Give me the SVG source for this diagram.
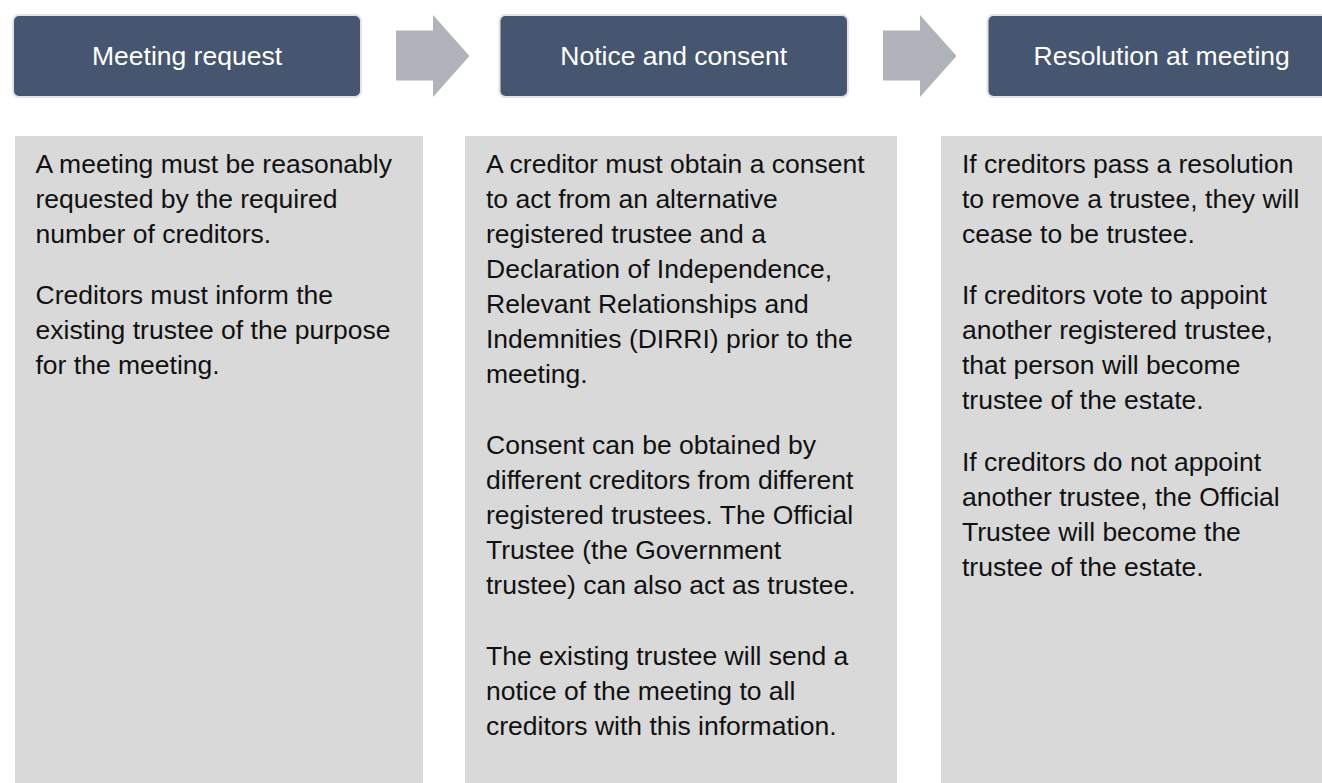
<svg xmlns="http://www.w3.org/2000/svg" width="1322" height="783" viewBox="0 0 1322 783">
  <style>
    .hdr { fill: #465670; stroke: #e4e4e4; stroke-width: 2; }
    .hdr-t { font-family: "Liberation Sans", Arial, sans-serif; font-size: 26.5px; fill: #ffffff; text-anchor: middle; }
    .body { fill: #d9d9d9; }
    .body-t { font-family: "Liberation Sans", Arial, sans-serif; font-size: 26.5px; fill: #111111; }
    .arrow { fill: #b0b3b9; }
  </style>
  <rect x="0" y="0" width="1322" height="783" fill="#ffffff"/>

  <g id="connectors">
    <polygon class="arrow" points="396,30.5 433,30.5 433,15 469.5,56 433,97 433,80.5 396,80.5"/>
    <polygon class="arrow" points="883,30.5 920,30.5 920,15 956.5,56 920,97 920,80.5 883,80.5"/>
  </g>

  <g id="node-meeting-request">
    <rect class="hdr" x="13" y="15" width="348" height="82" rx="6"/>
    <text class="hdr-t" x="187" y="65">Meeting request</text>
  </g>

  <g id="node-notice-and-consent">
    <rect class="hdr" x="499.5" y="15" width="348.5" height="82" rx="6"/>
    <text class="hdr-t" x="673.7" y="65">Notice and consent</text>
  </g>

  <g id="node-resolution-at-meeting">
    <rect class="hdr" x="987.5" y="15" width="348.5" height="82" rx="6"/>
    <text class="hdr-t" x="1161.7" y="65">Resolution at meeting</text>
  </g>

  <g id="detail-meeting-request">
    <rect class="body" x="15" y="136" width="408" height="647"/>
    <text class="body-t">
      <tspan x="35.5" y="173">A meeting must be reasonably</tspan>
      <tspan x="35.5" y="208">requested by the required</tspan>
      <tspan x="35.5" y="243">number of creditors.</tspan>
      <tspan x="35.5" y="304">Creditors must inform the</tspan>
      <tspan x="35.5" y="339">existing trustee of the purpose</tspan>
      <tspan x="35.5" y="374">for the meeting.</tspan>
    </text>
  </g>

  <g id="detail-notice-and-consent">
    <rect class="body" x="465" y="136" width="432" height="647"/>
    <text class="body-t">
      <tspan x="486" y="173">A creditor must obtain a consent</tspan>
      <tspan x="486" y="208">to act from an alternative</tspan>
      <tspan x="486" y="243">registered trustee and a</tspan>
      <tspan x="486" y="278">Declaration of Independence,</tspan>
      <tspan x="486" y="313">Relevant Relationships and</tspan>
      <tspan x="486" y="348">Indemnities (DIRRI) prior to the</tspan>
      <tspan x="486" y="383">meeting.</tspan>
      <tspan x="486" y="454">Consent can be obtained by</tspan>
      <tspan x="486" y="489">different creditors from different</tspan>
      <tspan x="486" y="524">registered trustees. The Official</tspan>
      <tspan x="486" y="559">Trustee (the Government</tspan>
      <tspan x="486" y="594">trustee) can also act as trustee.</tspan>
      <tspan x="486" y="665">The existing trustee will send a</tspan>
      <tspan x="486" y="700">notice of the meeting to all</tspan>
      <tspan x="486" y="735">creditors with this information.</tspan>
    </text>
  </g>

  <g id="detail-resolution-at-meeting">
    <rect class="body" x="941" y="136" width="400" height="647"/>
    <text class="body-t">
      <tspan x="962" y="173">If creditors pass a resolution</tspan>
      <tspan x="962" y="208">to remove a trustee, they will</tspan>
      <tspan x="962" y="243">cease to be trustee.</tspan>
      <tspan x="962" y="304">If creditors vote to appoint</tspan>
      <tspan x="962" y="339">another registered trustee,</tspan>
      <tspan x="962" y="374">that person will become</tspan>
      <tspan x="962" y="409">trustee of the estate.</tspan>
      <tspan x="962" y="470.5">If creditors do not appoint</tspan>
      <tspan x="962" y="505.5">another trustee, the Official</tspan>
      <tspan x="962" y="540.5">Trustee will become the</tspan>
      <tspan x="962" y="575.5">trustee of the estate.</tspan>
    </text>
  </g>
</svg>
